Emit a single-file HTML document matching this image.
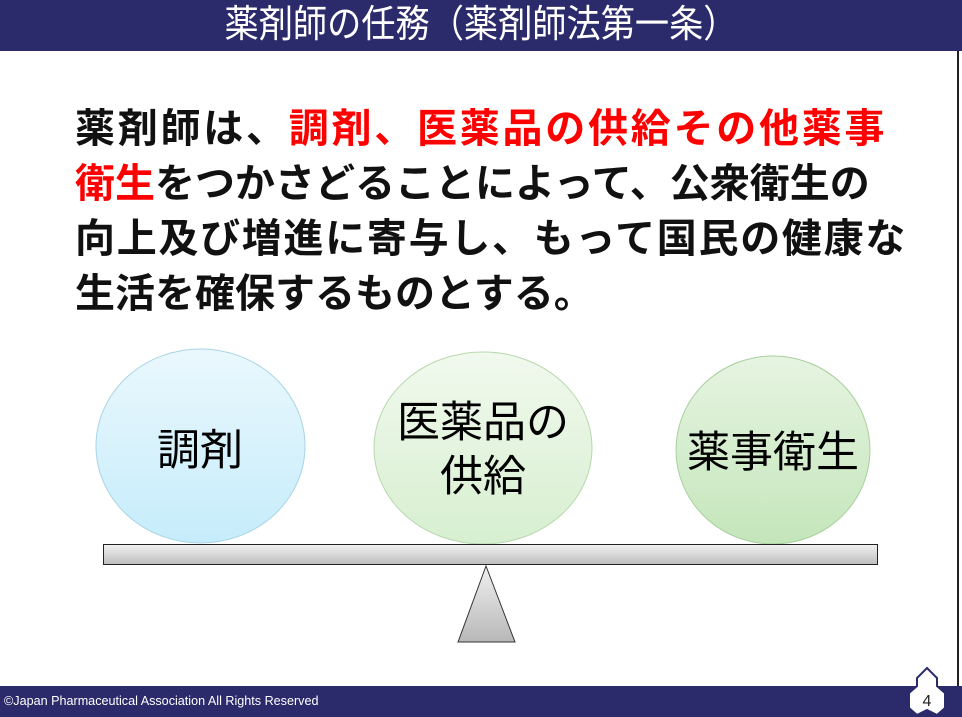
<!DOCTYPE html>
<html><head><meta charset="utf-8"><style>
body{margin:0;width:962px;height:717px;overflow:hidden;background:#fff;font-family:"Liberation Sans","Noto Sans CJK JP",sans-serif;position:relative}
.hdr{position:absolute;left:0;top:0;width:962px;height:51px;background:#2b2a6b;color:#fff;font-size:38px;text-align:center;line-height:51px}
.ftr{position:absolute;left:0;top:686px;width:962px;height:31px;background:#2b2a6b;color:#fff;font-size:12.6px;line-height:31px;padding-left:4px;box-sizing:border-box}
.main{position:absolute;left:75px;top:102px;font-size:40px;font-weight:bold;line-height:55px;color:#111;white-space:nowrap}
.main div{height:55px}
.r{color:#f00}
</style></head><body>
<div class="hdr"><span style="display:inline-block;transform:scaleX(0.9)">薬剤師の任務（薬剤師法第一条）</span></div>
<div style="position:absolute;left:957px;top:51px;width:2px;height:635px;background:#222"></div>
<div class="main">
<div style="letter-spacing:2.75px">薬剤師は、<span class="r">調剤、医薬品の供給その他薬事</span></div>
<div style="letter-spacing:0px"><span class="r">衛生</span>をつかさどることによって、公衆衛生の</div>
<div style="letter-spacing:1.7px">向上及び増進に寄与し、もって国民の健康な</div>
<div>生活を確保するものとする。</div>
</div>
<svg width="962" height="717" style="position:absolute;left:0;top:0">
<defs>
<linearGradient id="b" x1="0" y1="0" x2="0" y2="1"><stop offset="0" stop-color="#eaf8fd"/><stop offset="1" stop-color="#c6ecfb"/></linearGradient>
<linearGradient id="g" x1="0" y1="0" x2="0" y2="1"><stop offset="0" stop-color="#f1f9ee"/><stop offset="1" stop-color="#d7efd0"/></linearGradient>
<linearGradient id="g2" x1="0" y1="0" x2="0" y2="1"><stop offset="0" stop-color="#e6f4e1"/><stop offset="1" stop-color="#c4e6bb"/></linearGradient>
<linearGradient id="bar" x1="0" y1="0" x2="0" y2="1"><stop offset="0" stop-color="#f2f2f2"/><stop offset="1" stop-color="#bdbdbd"/></linearGradient>
<linearGradient id="tri" x1="0" y1="0" x2="0" y2="1"><stop offset="0" stop-color="#f0f0f0"/><stop offset="1" stop-color="#b8b8b8"/></linearGradient>
</defs>
<ellipse cx="200.5" cy="446" rx="104.5" ry="97" fill="url(#b)" stroke="#a9d4e4"/>
<ellipse cx="483" cy="448" rx="109" ry="96" fill="url(#g)" stroke="#b7d8ad"/>
<ellipse cx="773" cy="450" rx="97" ry="94" fill="url(#g2)" stroke="#a9cf9e"/>
<rect x="103.5" y="544.5" width="774" height="20" fill="url(#bar)" stroke="#222"/>
<polygon points="486,566 458,642 515,642" fill="url(#tri)" stroke="#333"/>
<g font-size="43" text-anchor="middle" font-family="Liberation Sans,Noto Sans CJK JP,sans-serif">
<text x="200" y="465">調剤</text>
<text x="483" y="437">医薬品の</text>
<text x="483" y="491">供給</text>
<text x="773" y="467">薬事衛生</text>
</g>
</svg>
<div class="ftr">©Japan Pharmaceutical Association All Rights Reserved</div>
<svg width="962" height="717" style="position:absolute;left:0;top:0">
<polygon points="927,668 937,678 937,686 945,693 945,708 937,715 927,710 917,715 909,708 909,693 917,686 917,678" fill="#fff" stroke="#2b2a6b" stroke-width="2"/>
<text x="927" y="706" font-size="16" text-anchor="middle" fill="#222" font-family="Liberation Sans,sans-serif">4</text>
</svg>
</body></html>
